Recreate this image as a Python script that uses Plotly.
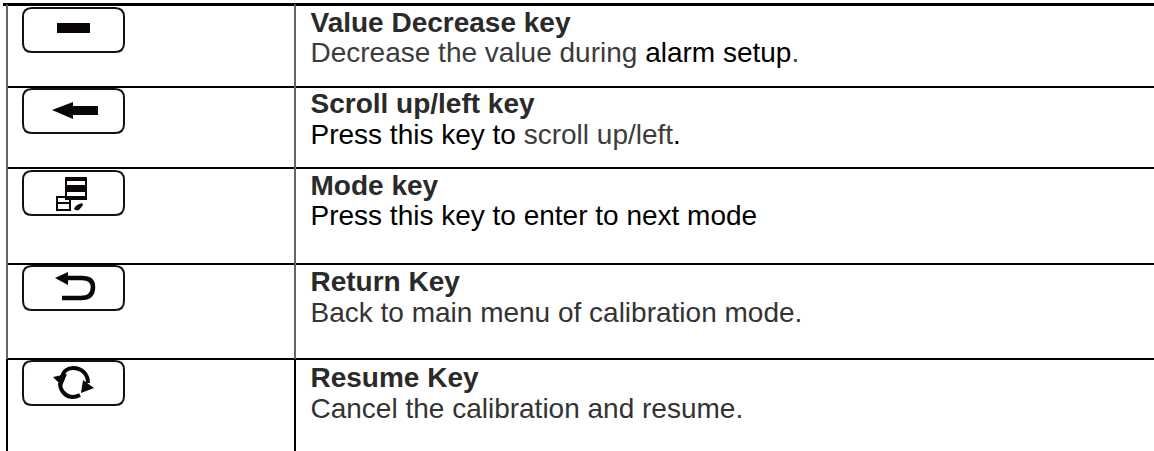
import plotly.graph_objects as go

titles = ["Value Decrease key", "Scroll up/left key", "Mode key", "Return Key", "Resume Key"]
descriptions = [
    '<span style="color:#3c3c3c">Decrease the value during </span><span style="color:#000000">alarm setup</span><span style="color:#3c3c3c">.</span>',
    '<span style="color:#000000">Press this key to </span><span style="color:#3c3c3c">scroll up/left</span><span style="color:#000000">.</span>',
    '<span style="color:#000000">Press this key to enter to next mode</span>',
    '<span style="color:#333333">Back to main menu of calibration mode.</span>',
    '<span style="color:#333333">Cancel the calibration and resume.</span>',
]
row_tops = [4.5, 87, 168, 264, 359]
title_rows = [25, 106, 187.5, 283.5, 379.5]
desc_rows = [55, 137, 218, 315, 411]
column_edges = [7, 295]
table_bottom = 451
table_right = 1154
text_x = 310.5
button_left = 23
button_right = 124
button_tops = [8, 89, 171, 266, 361]
button_h = 44

fig = go.Figure()

# row rules
for i, y in enumerate(row_tops):
    fig.add_trace(go.Scatter(x=[3 if i == 0 else column_edges[0], table_right], y=[y, y], mode="lines",
                             line=dict(color="#000000", width=3 if i == 0 else 2), hoverinfo="skip"))
# column rules
for xc in column_edges:
    fig.add_trace(go.Scatter(x=[xc, xc], y=[row_tops[0], row_tops[4]], mode="lines",
                             line=dict(color="#666666", width=2), hoverinfo="skip"))
    fig.add_trace(go.Scatter(x=[xc, xc], y=[row_tops[4], table_bottom], mode="lines",
                             line=dict(color="#000000", width=2), hoverinfo="skip"))

# text
fig.add_trace(go.Scatter(x=[text_x] * 5, y=title_rows, text=[f"<b>{t}</b>" for t in titles], mode="text",
                         textposition="middle right", textfont=dict(family="Liberation Sans", size=28, color="#2a2a2a")))
fig.add_trace(go.Scatter(x=[text_x] * 5, y=desc_rows, text=descriptions, mode="text",
                         textposition="middle right", textfont=dict(family="Liberation Sans", size=28, color="#333333")))

shapes = []
def rr(x0, y0, x1, y1, r=9):
    return (f"M{x0+r},{y0} L{x1-r},{y0} Q{x1},{y0} {x1},{y0+r} L{x1},{y1-r} Q{x1},{y1} {x1-r},{y1} "
            f"L{x0+r},{y1} Q{x0},{y1} {x0},{y1-r} L{x0},{y0+r} Q{x0},{y0} {x0+r},{y0} Z")
for t in button_tops:
    shapes.append(dict(type="path", path=rr(button_left, t, button_right, t + button_h),
                       line=dict(color="#111111", width=2), fillcolor="rgba(0,0,0,0)"))
BLK = "#0a0508"
def solid(path):
    shapes.append(dict(type="path", path=path, line=dict(width=0), fillcolor=BLK))
def stroke(path, w=2.5):
    shapes.append(dict(type="path", path=path, line=dict(color=BLK, width=w), fillcolor="rgba(0,0,0,0)"))
# minus
solid("M57,23 L90,23 L90,33 L57,33 Z")
# left arrow
solid("M52,110 L73,102 L73,106 L98,106 L98,115 L73,115 L73,119 Z")
# mode icon
solid("M65,178 Q65,177 66,177 L86,177 Q87,177 87,178 L87,200 L65,200 Z")
shapes.append(dict(type="path", path="M67,181 L85,181 L85,185 L67,185 Z", line=dict(width=0), fillcolor="white"))
shapes.append(dict(type="path", path="M67,192 L85,192 L85,196 L67,196 Z", line=dict(width=0), fillcolor="white"))
stroke("M57,197 L70,197 L70,210 L57,210 Z M57,203 L70,203", 2)
solid("M74,209 Q75,205 82,203 L83,205 L79,210 Q76,211 74,209 Z")
# return icon
stroke("M62,278 L82,278 Q93,278 93,287 Q93,298 81,298 L62,298", 4.5)
solid("M55,278 L68,272 L68,285 Z")
# resume icon
stroke("M62,378 C63,371 68,368 73,368 C82,368 88,374 88,383", 4)
stroke("M60,383 C60,391 66,397 73,397 C76,397 78,396 80,395", 4)
solid("M53,377 L67,374 L62,386 Z")
solid("M94,388 L81,393 L83,380 Z")

fig.update_layout(
    width=1154, height=451, margin=dict(l=0, r=0, t=0, b=0), showlegend=False,
    paper_bgcolor="white", plot_bgcolor="white", shapes=shapes,
    xaxis=dict(range=[0, 1154], visible=False, fixedrange=True),
    yaxis=dict(range=[451, 0], visible=False, fixedrange=True),
)
fig.write_html("out.html", config={"displayModeBar": False},
               post_script="document.body.style.margin='0';document.documentElement.style.overflow='hidden';")
